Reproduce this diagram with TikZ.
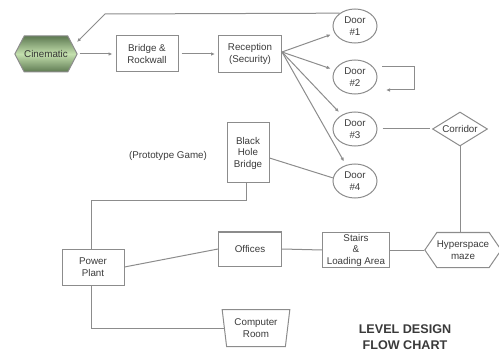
\documentclass[tikz,border=0pt]{standalone}
\usepackage{fontspec}
\setmainfont{Liberation Sans}
\usetikzlibrary{shapes.geometric,shapes.symbols,arrows.meta,calc}
\definecolor{ln}{HTML}{8C8C8C}
\definecolor{tx}{HTML}{3A3A3A}
\definecolor{gdark}{HTML}{5E7A52}
\definecolor{glight}{HTML}{C4E0AE}
\begin{document}
\begin{tikzpicture}[x=1pt,y=-1pt,
  every node/.style={font=\fontsize{9.8}{11.5}\selectfont, text=tx, align=center},
  box/.style={draw=ln, line width=1pt, rectangle, inner sep=0pt},
  door/.style={draw=ln, line width=1pt, ellipse, minimum width=44pt, minimum height=34pt, inner sep=0pt},
  con/.style={draw=ln, line width=1pt},
  arr/.style={con, -{Latex[length=4pt,width=3.5pt]}, shorten >=3pt}]
\useasboundingbox (0,0) rectangle (499,353);

% nodes
\node[draw=ln, line width=1pt, signal, signal to=west and east, signal pointer angle=125,
      minimum width=57pt, minimum height=36pt, inner sep=0pt,
      top color=gdark, bottom color=gdark, middle color=glight, text=black!80] (cin) at (46,54) {Cinematic};
\node[box, minimum width=62pt, minimum height=36pt] (bridge) at (147,54) {Bridge \&\\Rockwall};
\node[box, minimum width=63pt, minimum height=37pt] (recep) at (250,54) {Reception\\(Security)};
\node[door] (d1) at (355,26) {Door\\\#1};
\node[door] (d2) at (355,77) {Door\\\#2};
\node[door] (d3) at (355,129) {Door\\\#3};
\node[door] (d4) at (355,181) {Door\\\#4};
\node[draw=ln, line width=1pt, diamond, aspect=1.6, minimum width=55pt, minimum height=34pt, inner sep=0pt] (corr) at (460,129) {Corridor};
\node[draw=ln, line width=1pt, signal, signal to=west and east, signal pointer angle=111,
      minimum width=67pt, minimum height=35pt, inner sep=0pt] (hyper) at (463,250) {Hyperspace\\maze};
\node[box, minimum width=67pt, minimum height=35pt] (stairs) at (356,250) {Stairs\\\&\\Loading Area};
\node[box, minimum width=63pt, minimum height=34pt] (off) at (250,249) {Offices};
\node[box, minimum width=62pt, minimum height=36pt] (power) at (93,267) {Power\\Plant};
\node[box, minimum width=42pt, minimum height=60pt] (bhb) at (248,153) {Black\\Hole\\Bridge};
\node[draw=ln, line width=1pt, trapezium, shape border rotate=180, trapezium angle=80,
      trapezium stretches=true, minimum width=68pt, minimum height=37pt, inner sep=0pt] (comp) at (256,328) {Computer\\Room};
\node (proto) at (168,156) {(Prototype Game)};
\node[font=\fontsize{12.6}{16}\selectfont\bfseries] (title) at (405,337) {LEVEL DESIGN\\FLOW CHART};

% connectors
\coordinate (bend) at (105,14);
\coordinate (cinin) at (77,42);
\draw[con, -{Latex[length=4pt,width=3.5pt]}] (d1.140) -- (bend) -- (cinin);
\draw[arr, shorten <=2pt] (cin.east) -- (bridge.west);
\draw[arr, shorten <=3pt] (bridge.east) -- (recep.west);
\foreach \d in {d1,d2,d3,d4}
  \draw[arr, shorten >=4pt] ([yshift=2pt]recep.east) -- (\d);
\draw[con, -{Latex[length=4pt,width=3.5pt]}] ($(d2.center)+(27,-10)$) -- ++(32,0) -- ++(0,23) -- ++(-28,0);
\draw[con, shorten <=5pt, shorten >=2pt] (d3.east) -- (corr.west);
\draw[con] (corr.south) -- (corr.south |- hyper.north);
\draw[con] ([yshift=-5pt]bhb.east) -- (d4.172);
\draw[con] ([xshift=-2pt]bhb.south) -- ++(0,17) -| ([xshift=-2pt]power.north);
\draw[con] (power.east) -- (off.west);
\draw[con] (off.east) -- (stairs.west);
\draw[con] (stairs.east) -- (hyper.west);
\draw[con] ([xshift=-2pt]power.south) |- (comp.west);
\end{tikzpicture}
\end{document}
